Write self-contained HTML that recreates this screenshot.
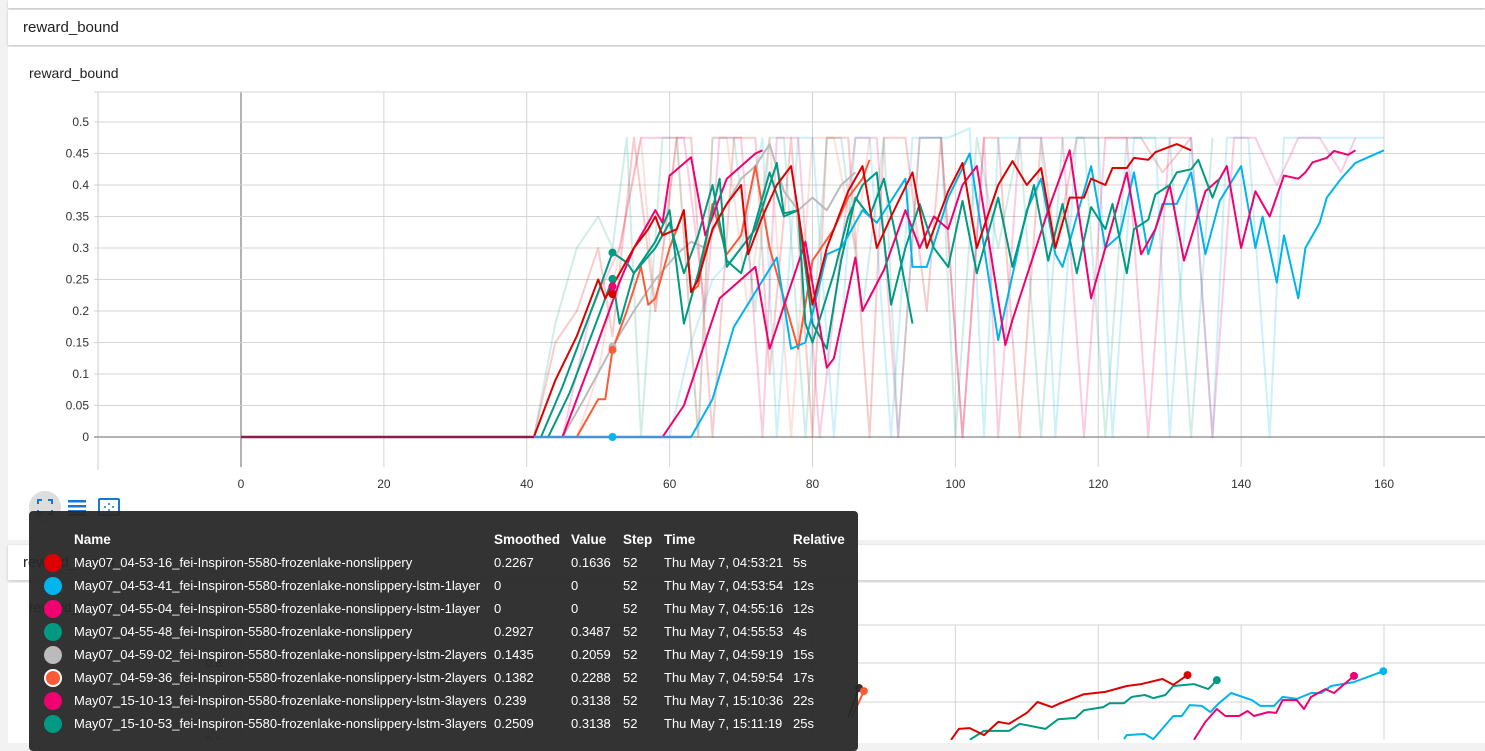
<!DOCTYPE html>
<html><head><meta charset="utf-8">
<style>
html,body{margin:0;padding:0;width:1485px;height:740px;overflow:hidden;background:#f2f2f2;font-family:"Liberation Sans",sans-serif;}
.abs{position:absolute;}
#topstrip{left:8px;top:0;width:1477px;height:8px;background:#fff;box-shadow:0 1px 2px rgba(0,0,0,.2);}
.hdr{left:8px;width:1477px;height:35px;background:#fff;box-shadow:0 1px 3px rgba(0,0,0,.2);font-size:15px;color:#212121;}
.hdr span{position:absolute;left:15px;top:9px;}
.card{left:8px;width:1477px;background:#fff;}
#tooltip{left:29px;top:511px;width:829px;height:240px;background:rgba(40,40,40,0.95);border-radius:4px;color:#fff;font-size:13px;}
#tooltip table{position:absolute;left:0;top:17px;border-collapse:collapse;}
#tooltip td,#tooltip th{padding:0;height:23px;white-space:nowrap;text-align:left;}
#tooltip th{font-weight:bold;font-size:13.5px;}
.dot{display:inline-block;width:18px;height:18px;border-radius:50%;vertical-align:middle;}
</style></head><body>
<div class="abs" id="topstrip"></div>
<div class="abs hdr" style="top:10px"><span>reward_bound</span></div>
<div class="abs card" style="top:47px;height:493px"></div>
<div class="abs hdr" style="top:545px"><span>reward_mean</span></div>
<div class="abs card" style="top:583px;height:160px"></div>
<div class="abs" style="left:29px;top:65px;font-size:14px;color:#212121">reward_bound</div>
<div class="abs" style="left:29px;top:599px;font-size:14px;color:#212121">reward_mean</div>

<svg class="abs" style="left:0;top:0" width="1485" height="740" id="chart">
<g id="grid"></g><g id="raw"></g><g id="smooth"></g><g id="markers"></g><g id="labels" font-size="12" fill="#333"></g>
<g id="grid2"></g><g id="smooth2"></g>
<g>
<circle cx="45" cy="507" r="16" fill="#ddd"/>
<path d="M38 504v-4h4M48 500h4v4M52 510v4h-4M42 514h-4v-4" stroke="#1976d2" stroke-width="2" fill="none"/>
</g>
<g fill="#1976d2">
<rect x="68" y="500" width="18" height="2.5"/><rect x="68" y="505" width="18" height="2.5"/><rect x="68" y="510" width="18" height="2.5"/><rect x="68" y="514" width="18" height="1.5" fill="#333"/>
</g>
<g>
<rect x="99" y="499" width="20" height="16" rx="1" stroke="#1976d2" stroke-width="2" fill="none"/>
<path d="M109 503v2M109 509v2M104 507h2M112 507h2" stroke="#1976d2" stroke-width="1.5"/>
</g>
</svg>

<div class="abs" id="tooltip">
<table>
<thead><tr>
<th style="width:45px"></th><th style="width:420px">Name</th><th style="width:77px">Smoothed</th><th style="width:52px">Value</th><th style="width:41px">Step</th><th style="width:129px">Time</th><th>Relative</th>
</tr></thead>
<tbody id="tbody"></tbody>
</table>
</div>

<script>
const runNames=["May07_04-53-16_fei-Inspiron-5580-frozenlake-nonslippery","May07_04-53-41_fei-Inspiron-5580-frozenlake-nonslippery-lstm-1layer","May07_04-55-04_fei-Inspiron-5580-frozenlake-nonslippery-lstm-1layer","May07_04-55-48_fei-Inspiron-5580-frozenlake-nonslippery","May07_04-59-02_fei-Inspiron-5580-frozenlake-nonslippery-lstm-2layers","May07_04-59-36_fei-Inspiron-5580-frozenlake-nonslippery-lstm-2layers","May07_15-10-13_fei-Inspiron-5580-frozenlake-nonslippery-lstm-3layers","May07_15-10-53_fei-Inspiron-5580-frozenlake-nonslippery-lstm-3layers"];
const runColors=["#dd0000","#00b5ee","#f00070","#009a82","#bbbbbb","#ff5a36","#f00070","#009a82"];
const smoothedVals=["0.2267","0","0","0.2927","0.1435","0.1382","0.239","0.2509"];
const rawVals=["0.1636","0","0","0.3487","0.2059","0.2288","0.3138","0.3138"];
const stepVals=["52","52","52","52","52","52","52","52"];
const timeVals=["Thu May 7, 04:53:21","Thu May 7, 04:53:54","Thu May 7, 04:55:16","Thu May 7, 04:55:53","Thu May 7, 04:59:19","Thu May 7, 04:59:54","Thu May 7, 15:10:36","Thu May 7, 15:11:19"];
const relVals=["5s","12s","12s","4s","15s","17s","22s","25s"];
const markerStep=52;

const xTicks=[0,20,40,60,80,100,120,140,160];
const yTicks=[0,0.05,0.1,0.15,0.2,0.25,0.3,0.35,0.4,0.45,0.5];
const yTickLabels=["0","0.05","0.1","0.15","0.2","0.25","0.3","0.35","0.4","0.45","0.5"];
const y2Ticks=[0.6,0.7,0.8,0.9];
const y2TickLabels=["0.6","0.7","0.8","0.9"];

const redSteps=[0,41,44,47,50,51,53,55,57,58,59,61,62,63,64,66,68,70,71,73,75,77,80,82,85,87,89,91,94,96,99,101,103,106,108,110,112,114,116,118,119,121,122,124,125,127,128,131,133];
const redVals=[0,0,0.09,0.16,0.25,0.22,0.26,0.30,0.33,0.35,0.32,0.33,0.36,0.23,0.25,0.33,0.37,0.40,0.29,0.35,0.40,0.43,0.21,0.30,0.39,0.43,0.30,0.35,0.42,0.30,0.39,0.435,0.30,0.40,0.438,0.40,0.427,0.30,0.38,0.38,0.41,0.40,0.427,0.427,0.443,0.44,0.452,0.465,0.455];
const cyanSteps=[0,63,66,69,72,75,77,79,82,84,87,89,93,94,96,99,102,106,110,112,114,115,119,121,123,125,127,129,131,133,135,137,140,142,143,145,146,148,149,151,152,154,156,158,160];
const cyanVals=[0,0,0.06,0.175,0.23,0.285,0.14,0.15,0.29,0.30,0.36,0.34,0.41,0.27,0.27,0.38,0.45,0.154,0.36,0.41,0.29,0.27,0.43,0.30,0.32,0.42,0.29,0.37,0.37,0.42,0.29,0.375,0.43,0.30,0.35,0.245,0.32,0.22,0.30,0.34,0.38,0.41,0.435,0.445,0.455];
const pinkASteps=[0,59,62,67,72,74,79,82,83,86,87,90,93,95,97,99,101,103,107,108,113,116,119,124,126,128,130,132,135,137,138,140,142,144,146,148,149,150,152,153,155,156];
const pinkAVals=[0,0,0.05,0.22,0.27,0.14,0.31,0.11,0.125,0.285,0.20,0.265,0.36,0.30,0.35,0.33,0.40,0.43,0.146,0.186,0.36,0.455,0.22,0.42,0.29,0.33,0.40,0.28,0.39,0.41,0.43,0.30,0.39,0.35,0.415,0.41,0.42,0.436,0.443,0.454,0.448,0.455];
const pinkBSteps=[0,45,49,53,55,58,59,60,63,65,68,72,73];
const pinkBVals=[0,0,0.12,0.246,0.30,0.36,0.34,0.415,0.444,0.32,0.41,0.45,0.455];
const tealASteps=[0,42,45,50,52,54,55,58,60,62,64,67,68,72,75,76,78,79,80,83,85,87,89,91,93,95,97,99,101,103,106,108,111,113,115,117,119,121,122,124,125,127,128,130,131,133,134,136,137];
const tealAVals=[0,0,0.08,0.23,0.2927,0.277,0.26,0.31,0.36,0.18,0.26,0.41,0.27,0.33,0.435,0.355,0.36,0.18,0.15,0.26,0.35,0.40,0.42,0.21,0.30,0.37,0.30,0.27,0.375,0.26,0.38,0.27,0.40,0.28,0.37,0.26,0.365,0.33,0.37,0.26,0.33,0.345,0.385,0.40,0.42,0.425,0.44,0.38,0.41];
const tealBSteps=[0,43,46,50,52,53,55,58,60,62,64,66,68,70,72,74,76,78,80,82,84,86,88,90,92,94];
const tealBVals=[0,0,0.07,0.19,0.2509,0.18,0.26,0.30,0.34,0.26,0.32,0.40,0.28,0.26,0.34,0.42,0.35,0.36,0.18,0.14,0.28,0.38,0.35,0.41,0.30,0.18];
const graySteps=[0,45,48,52,55,58,61,63,65,67,70,72,74,76,78,80,82,84,86];
const grayVals=[0,0,0.06,0.1435,0.20,0.25,0.29,0.31,0.30,0.35,0.41,0.43,0.465,0.39,0.36,0.38,0.36,0.40,0.42];
const orangeSteps=[0,47,50,51,52,54,56,57,58,60,62,63,64,66,68,70,72,74,76,78,80,83,85,87,88];
const orangeVals=[0,0,0.06,0.06,0.1382,0.20,0.27,0.21,0.22,0.30,0.36,0.23,0.24,0.37,0.29,0.32,0.43,0.30,0.22,0.14,0.28,0.33,0.38,0.41,0.44];

const rawRedSteps=[41,44,47,50,52,55,58,61,63,66,69,72,74,77,80,82,85,88,90,93,96,98,101,104,106,109,112,114,117,120,123,126,129,133];
const rawRedVals=[0,0.15,0.2,0.3,0.16,0.475,0.2,0.475,0.475,0,0.475,0.475,0.1,0.475,0,0.475,0.475,0,0.475,0.475,0.2,0.475,0,0.475,0.475,0,0.475,0.3,0.475,0.475,0.475,0.475,0.42,0.475];
const rawCyanSteps=[60,63,66,70,73,75,78,80,83,86,88,91,94,96,99,102,104,106,109,112,114,117,120,122,125,128,130,133,136,138,141,144,146,148,150,153,156,160];
const rawCyanVals=[0,0.15,0.25,0.3,0.475,0,0.475,0.475,0,0.475,0.475,0,0.475,0.475,0.475,0.49,0,0.475,0.475,0.475,0,0.475,0.475,0,0.475,0.475,0,0.475,0,0.475,0.475,0,0.475,0.475,0.475,0.475,0.475,0.475];
const rawPinkSteps=[45,49,53,56,59,62,65,67,70,73,75,78,81,84,86,89,92,95,98,101,104,106,109,112,115,118,121,124,127,130,133,136,139,142,145,148,151,154,156];
const rawPinkVals=[0,0.2,0.3,0.475,0.475,0.475,0.2,0.475,0.475,0,0.475,0.475,0,0.3,0.475,0.475,0,0.475,0.475,0,0.475,0,0.475,0.475,0.475,0,0.475,0.475,0,0.475,0.475,0,0.475,0.475,0.4,0.475,0.475,0.42,0.475];
const rawTealSteps=[41,44,47,50,52,54,56,59,61,64,66,69,72,74,76,79,82,84,87,90,92,95,98,100,103,106,109,112,115,118,121,124,127,130,133,136];
const rawTealVals=[0,0.18,0.3,0.35,0.3,0.475,0,0.475,0.475,0,0.475,0.475,0.2,0.475,0.475,0,0.475,0.475,0.2,0.475,0,0.475,0.475,0,0.475,0.3,0.475,0,0.475,0.475,0,0.475,0.475,0.475,0,0.475];
const rawOrangeSteps=[47,50,53,56,58,61,64,66,68,71,74,77,80,83,86,88];
const rawOrangeVals=[0,0.1,0.3,0.475,0.2,0.475,0,0.475,0.475,0.2,0.475,0,0.475,0.475,0.3,0.475];

const b2RedSteps=[99.4,100.5,102,104,106,107.5,110,111.5,113.5,114.7,118,121,124,126,129,130.5,132.5];
const b2RedVals=[0.603,0.631,0.633,0.615,0.649,0.644,0.672,0.70,0.687,0.697,0.72,0.726,0.741,0.746,0.759,0.744,0.769];
const b2TealSteps=[102,104,107.5,109,112.6,114.4,116.8,118,120.7,121.6,123.6,124.7,126.5,127.7,129.4,130.5,133.4,135.4,136.6];
const b2TealVals=[0.603,0.626,0.626,0.644,0.631,0.656,0.659,0.679,0.687,0.697,0.697,0.713,0.718,0.710,0.718,0.741,0.746,0.733,0.756];
const b2CyanSteps=[123.6,124,126.5,127.7,128.8,130.5,131.7,132.8,134.5,135.7,136.9,138.6,141.5,142.7,144.6,145.8,147.8,149.8,151.2,152.6,155.8,159.9];
const b2CyanVals=[0.605,0.615,0.618,0.605,0.628,0.664,0.664,0.692,0.69,0.674,0.697,0.723,0.705,0.69,0.69,0.713,0.708,0.723,0.723,0.741,0.751,0.779];
const b2PinkSteps=[133.4,135,136.6,137.8,139.7,140.9,141.8,143.8,144.9,145.8,147.8,148.8,149.8,151.8,153,155.8];
const b2PinkVals=[0.603,0.649,0.682,0.664,0.664,0.677,0.664,0.674,0.672,0.705,0.705,0.682,0.713,0.733,0.723,0.767];
const b2OrangeSteps=[85.5,87.2];
const b2OrangeVals=[0.66,0.728];
const b2DarkSteps=[85,86.5];
const b2DarkVals=[0.66,0.736];

const NS="http://www.w3.org/2000/svg";
const sx=s=>241+s*(1384-241)/160;
const sy=v=>437-v*630;
const sy2=v=>663-(v-0.8)*390;
function mk(tag,attrs,parent){const e=document.createElementNS(NS,tag);for(const k in attrs)e.setAttribute(k,attrs[k]);parent.appendChild(e);return e;}
function line(steps,vals,ys,color,w,op,parent,name){
  const d=steps.map((s,i)=>(i?"L":"M")+sx(s).toFixed(1)+" "+ys(vals[i]).toFixed(1)).join(" ");
  const p=mk("path",{d:d,fill:"none",stroke:color,"stroke-width":w,"stroke-opacity":op,"stroke-linejoin":"round"},parent);
  
  
}
const grid=document.getElementById("grid"),labels=document.getElementById("labels");
xTicks.forEach(t=>{
  const l=mk("line",{x1:sx(t),x2:sx(t),y1:92,y2:467,stroke:t===0?"#999":"#d4d4d4","stroke-width":t===0?1.5:1},grid);
  
  
  const tx=mk("text",{x:sx(t),y:488,"text-anchor":"middle"},labels);tx.textContent=String(t);
  
  
});
mk("line",{x1:98,x2:98,y1:92,y2:470,stroke:"#ccc"},grid);
mk("line",{x1:94,x2:1485,y1:92,y2:92,stroke:"#d4d4d4"},grid);
yTicks.forEach((t,i)=>{
  const l=mk("line",{x1:94,x2:1485,y1:sy(t),y2:sy(t),stroke:t===0?"#999":"#d4d4d4","stroke-width":t===0?1.5:1},grid);
  
  
  const tx=mk("text",{x:89,y:sy(t)+4,"text-anchor":"end"},labels);tx.textContent=yTickLabels[i];
  
  
});
const raw=document.getElementById("raw");
line(rawRedSteps,rawRedVals,sy,"#dd0000",2,0.2,raw,"raw-line-red");
line(rawCyanSteps,rawCyanVals,sy,"#00b5ee",2,0.2,raw,"raw-line-cyan");
line(rawPinkSteps,rawPinkVals,sy,"#f00070",2,0.2,raw,"raw-line-pink");
line(rawTealSteps,rawTealVals,sy,"#009a82",2,0.18,raw,"raw-line-teal");
line(rawOrangeSteps,rawOrangeVals,sy,"#ff5a36",2,0.18,raw,"raw-line-orange");
const sm=document.getElementById("smooth");
line(graySteps,grayVals,sy,"#bbbbbb",2,1,sm,"series-line-gray");
line(orangeSteps,orangeVals,sy,"#ff5a36",2,1,sm,"series-line-orange");
line(tealBSteps,tealBVals,sy,"#009a82",2,1,sm,"series-line-teal-3layers");
line(pinkBSteps,pinkBVals,sy,"#f00070",2,1,sm,"series-line-pink-3layers");
line(cyanSteps,cyanVals,sy,"#00b5ee",2,1,sm,"series-line-cyan");
line(pinkASteps,pinkAVals,sy,"#f00070",2,1,sm,"series-line-pink");
line(tealASteps,tealAVals,sy,"#009a82",2,1,sm,"series-line-teal");
line(redSteps,redVals,sy,"#dd0000",2,1,sm,"series-line-red");
mk("line",{x1:sx(0),x2:sx(41),y1:sy(0),y2:sy(0),stroke:"#8a1c4a","stroke-width":2.5},sm);
mk("line",{x1:sx(41),x2:sx(63),y1:sy(0),y2:sy(0),stroke:"#4a90d9","stroke-width":2.5},sm);
const mg=document.getElementById("markers");
[4,5,1,3,7,6,0].forEach(i=>{
  const c=mk("circle",{cx:sx(markerStep),cy:sy(parseFloat(smoothedVals[i])),r:4,fill:runColors[i]},mg);
  
  
});
const g2=document.getElementById("grid2");
xTicks.forEach(t=>{mk("line",{x1:sx(t),x2:sx(t),y1:625,y2:740,stroke:"#d4d4d4"},g2);});
mk("line",{x1:232,x2:1485,y1:625,y2:625,stroke:"#d4d4d4"},g2);
y2Ticks.forEach((t,i)=>{
  if(sy2(t)>625&&sy2(t)<745){mk("line",{x1:228,x2:1485,y1:sy2(t),y2:sy2(t),stroke:"#d4d4d4"},g2);
  const tx=mk("text",{x:222,y:sy2(t)+4,"text-anchor":"end","font-size":12,fill:"#333"},g2);tx.textContent=y2TickLabels[i];
  
  }
});
const s2=document.getElementById("smooth2");
line(b2DarkSteps,b2DarkVals,sy2,"#333",2,1,s2,"mean-line-dark");
line(b2OrangeSteps,b2OrangeVals,sy2,"#ff5a36",2,1,s2,"mean-line-orange");
line(b2TealSteps,b2TealVals,sy2,"#009a82",2,1,s2,"mean-line-teal");
line(b2CyanSteps,b2CyanVals,sy2,"#00b5ee",2,1,s2,"mean-line-cyan");
line(b2PinkSteps,b2PinkVals,sy2,"#f00070",2,1,s2,"mean-line-pink");
line(b2RedSteps,b2RedVals,sy2,"#dd0000",2,1,s2,"mean-line-red");
[[b2DarkSteps,b2DarkVals,"#333"],[b2OrangeSteps,b2OrangeVals,"#ff5a36"],[b2RedSteps,b2RedVals,"#dd0000"],[b2TealSteps,b2TealVals,"#009a82"],[b2PinkSteps,b2PinkVals,"#f00070"],[b2CyanSteps,b2CyanVals,"#00b5ee"]].forEach(a=>{
  const n=a[0].length-1;
  const c=mk("circle",{cx:sx(a[0][n]),cy:sy2(a[1][n]),r:4,fill:a[2]},s2);
  
  
});
const tb=document.getElementById("tbody");
runNames.forEach((n,i)=>{
  const tr=document.createElement("tr");
  
  
  const border=i===5?"border:2px solid #fff;box-sizing:border-box;":"";
  tr.innerHTML='<td style="padding-left:15px"><span class="dot" style="background:'+runColors[i]+';'+border+'"></span></td><td>'+n+'</td><td>'+smoothedVals[i]+'</td><td>'+rawVals[i]+'</td><td>'+stepVals[i]+'</td><td>'+timeVals[i]+'</td><td>'+relVals[i]+'</td>';
  tb.appendChild(tr);
});
</script>
</body></html>
